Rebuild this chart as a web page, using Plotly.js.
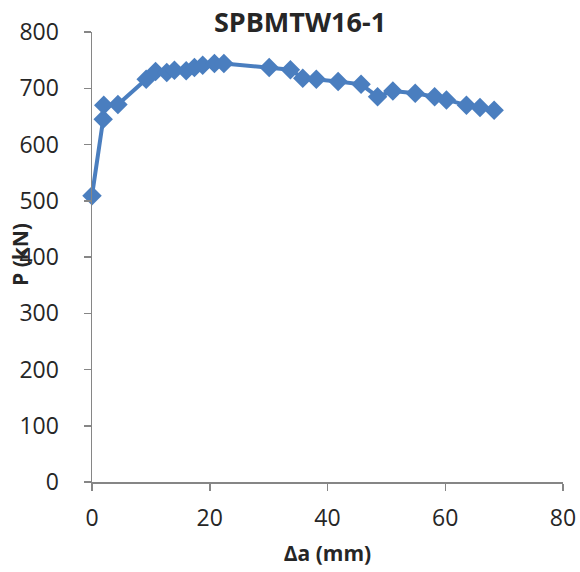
<!DOCTYPE html>
<html><head><meta charset="utf-8">
<script src="https://cdn.plot.ly/plotly-3.0.1.min.js"></script>
<style>html,body{margin:0;padding:0;background:#fff}</style>
</head><body>
<div id="chart" style="width:580px;height:572px"></div>
<script>
const titleText = 'SPBMTW16-1';
const xTitle = 'Δa (mm)';
const yTitle = 'P (kN)';
const deltaA = [0, 1.9, 2.0, 4.4, 9.2, 10.8, 12.7, 14.0, 16.0, 17.4, 18.8, 20.8, 22.4, 30.1, 33.7, 35.8, 38.1, 41.8, 45.7, 48.5, 51.1, 54.9, 58.2, 60.2, 63.6, 65.9, 68.3];
const loadP = [509, 645, 670, 671, 716, 730, 728, 732, 731, 737, 741, 744, 744, 737, 733, 718, 716, 712, 707, 685, 695, 691, 685, 679, 670, 666, 661];
const xTicks = [0, 20, 40, 60, 80];
const yTicks = [0, 100, 200, 300, 400, 500, 600, 700, 800];

const blue = '#4a7ebf';
const axisCommon = {
  showgrid: false, zeroline: false, showline: true,
  linecolor: '#868686', linewidth: 1.5,
  ticks: 'outside', ticklen: 7, tickwidth: 1.5, tickcolor: '#868686',
  tickfont: {family: 'Open Sans, sans-serif', size: 23, color: '#262626'},
  tickmode: 'array', fixedrange: true
};
const data = [{
  x: deltaA, y: loadP, type: 'scatter', mode: 'lines+markers',
  line: {color: blue, width: 4},
  marker: {symbol: 'diamond', size: 15, color: blue},
  cliponaxis: false, showlegend: false
}];
const layout = {
  width: 580, height: 572,
  margin: {l: 92, r: 17, t: 32, b: 90, pad: 0},
  paper_bgcolor: '#fff', plot_bgcolor: '#fff',
  title: {text: '<b>' + titleText + '</b>', font: {family: 'Open Sans, sans-serif', size: 27, color: '#262626'},
    x: 300/580, xanchor: 'center', xref: 'container', y: 1 - 23/572, yanchor: 'middle', yref: 'container'},
  xaxis: Object.assign({}, axisCommon, {range: [0, 80], tickvals: xTicks, ticktext: xTicks.map(String),
    ticklabelstandoff: 8,
    title: {text: '<b>' + xTitle + '</b>', font: {family: 'Open Sans, sans-serif', size: 21, color: '#262626'}, standoff: 14}}),
  yaxis: Object.assign({}, axisCommon, {range: [0, 800], tickvals: yTicks, ticktext: yTicks.map(String),
    ticklabelstandoff: 20}),
  annotations: [{
    text: '<b>' + yTitle + '</b>', textangle: -90, showarrow: false,
    xref: 'paper', yref: 'paper', x: (20 - 92) / 471, y: (482 - 255) / 450,
    xanchor: 'center', yanchor: 'middle',
    font: {family: 'Open Sans, sans-serif', size: 21, color: '#262626'}
  }]
};
Plotly.newPlot('chart', data, layout, {displayModeBar: false, staticPlot: true});
</script>
</body></html>
